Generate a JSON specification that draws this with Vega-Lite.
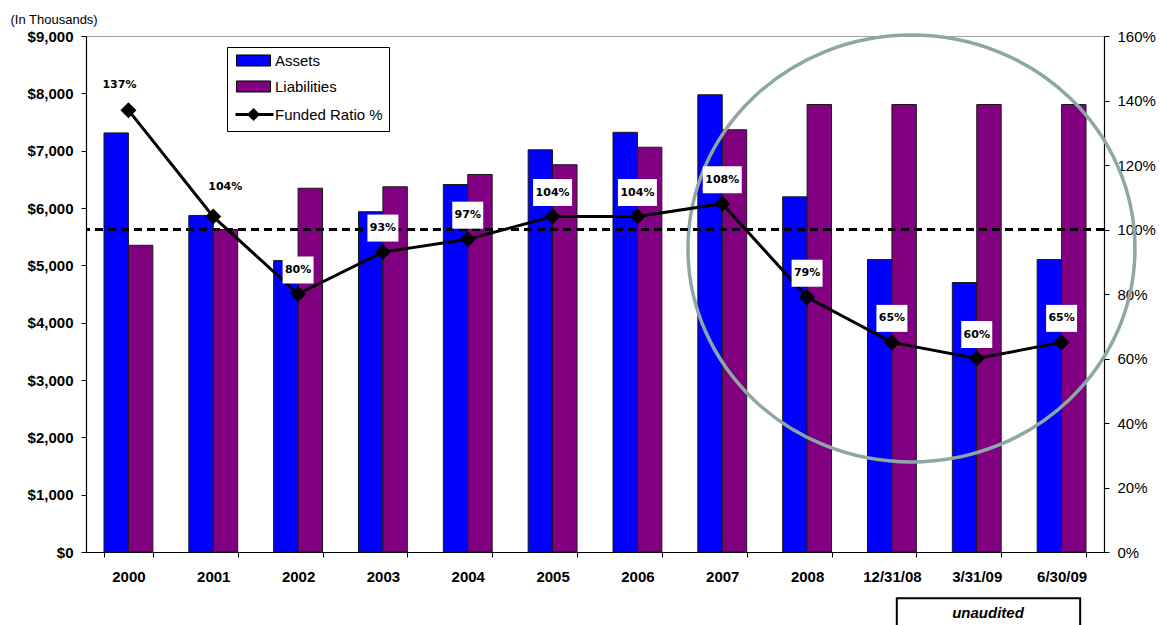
{
  "$schema": "https://vega.github.io/schema/vega-lite/v6.json",
  "width": 1018,
  "height": 516,
  "autosize": {"type": "none"},
  "padding": {"left": 86, "top": 36, "right": 55, "bottom": 73},
  "config": {
    "font": "Liberation Sans",
    "view": {"stroke": "#a0a0a0", "strokeWidth": 1},
    "axis": {"grid": false, "domainColor": "#000", "domainWidth": 1.2, "tickColor": "#000", "tickWidth": 1, "labelColor": "#000", "labelFont": "Liberation Sans"}
  },
  "datasets": {
    "funding": [
      {"period": "2000", "Assets": 7310, "Liabilities": 5350, "ratio": 1.37},
      {"period": "2001", "Assets": 5870, "Liabilities": 5625, "ratio": 1.04},
      {"period": "2002", "Assets": 5085, "Liabilities": 6345, "ratio": 0.80},
      {"period": "2003", "Assets": 5935, "Liabilities": 6370, "ratio": 0.93},
      {"period": "2004", "Assets": 6410, "Liabilities": 6585, "ratio": 0.97},
      {"period": "2005", "Assets": 7015, "Liabilities": 6755, "ratio": 1.04},
      {"period": "2006", "Assets": 7320, "Liabilities": 7060, "ratio": 1.04},
      {"period": "2007", "Assets": 7975, "Liabilities": 7365, "ratio": 1.08},
      {"period": "2008", "Assets": 6195, "Liabilities": 7805, "ratio": 0.79},
      {"period": "12/31/08", "Assets": 5100, "Liabilities": 7805, "ratio": 0.65},
      {"period": "3/31/09", "Assets": 4700, "Liabilities": 7805, "ratio": 0.60},
      {"period": "6/30/09", "Assets": 5100, "Liabilities": 7805, "ratio": 0.65}
    ],
    "note": [{"label": "unaudited"}]
  },
  "layer": [
    {
      "layer": [
        {
          "data": {"name": "funding"},
          "transform": [{"fold": ["Assets", "Liabilities"], "as": ["series", "amount"]}],
          "mark": {"type": "bar", "stroke": "#1a1a1a", "strokeWidth": 1},
          "encoding": {
            "x": {
              "field": "period", "type": "nominal", "title": null,
              "scale": {"domain": ["2000", "2001", "2002", "2003", "2004", "2005", "2006", "2007", "2008", "12/31/08", "3/31/09", "6/30/09"], "paddingInner": 0.424, "paddingOuter": 0.212},
              "axis": {"title": null, "labelAngle": 0, "labelFontWeight": "bold", "labelFontSize": 15, "tickBand": "extent", "tickSize": 5, "labelPadding": 12}
            },
            "xOffset": {"field": "series", "type": "nominal", "scale": {"domain": ["Assets", "Liabilities"], "paddingInner": 0, "paddingOuter": 0}},
            "y": {
              "field": "amount", "type": "quantitative", "title": "(In Thousands)",
              "scale": {"domain": [0, 9000], "nice": false},
              "axis": {
                "orient": "left", "title": "(In Thousands)", "titleAngle": 0, "titleAlign": "left", "titleBaseline": "middle",
                "titleX": -76, "titleY": -17, "titleFontSize": 13, "titleFontWeight": "normal", "titleColor": "#000",
                "values": [0, 1000, 2000, 3000, 4000, 5000, 6000, 7000, 8000, 9000],
                "format": "$,.0f", "labelFontWeight": "bold", "labelFontSize": 15, "tickSize": 5, "labelPadding": 8
              }
            },
            "color": {
              "field": "series", "type": "nominal",
              "scale": {"domain": ["Assets", "Liabilities", "Funded Ratio %"], "range": ["#0000FF", "#800080", "#000000"]},
              "legend": {
                "title": null, "orient": "none", "legendX": 141, "legendY": 11,
                "strokeColor": "#000", "fillColor": "#fff", "padding": 6,
                "labelFontSize": 15, "labelColor": "#000", "labelFont": "Liberation Sans",
                "symbolSize": 256, "rowPadding": 9, "labelOffset": 27,
                "symbolType": {"expr": "datum.value === 'Funded Ratio %' ? 'M-0.625,0H4.125M1.625,-0.55L2.175,0L1.625,0.55L1.075,0Z' : 'M-0.5,-0.69H3.75V0.69H-0.5Z'"},
                "symbolStrokeWidth": {"expr": "datum.value === 'Funded Ratio %' ? 3 : 1"},
                "symbolStrokeColor": "#000",
                "symbolOpacity": 1
              }
            }
          }
        },
        {
          "data": {"name": "note"},
          "mark": {
            "type": "point", "filled": false, "stroke": "#8DA6A6", "strokeWidth": 3.5, "opacity": 1, "size": 182329,
            "shape": "M-1.0468,0A1.0468,1,0,1,1,1.0468,0A1.0468,1,0,1,1,-1.0468,0Z"
          },
          "encoding": {
            "x": {"datum": "12/31/08", "bandPosition": 0.9},
            "y": {"datum": 5294, "type": "quantitative", "title": "(In Thousands)"}
          }
        },
        {
          "data": {"name": "note"},
          "mark": {"type": "rect", "fill": "#fff", "stroke": "#000", "strokeWidth": 2},
          "encoding": {
            "x": {"datum": "12/31/08", "bandPosition": 0.6},
            "x2": {"datum": "6/30/09", "bandPosition": 0.88},
            "y": {"datum": -805, "type": "quantitative", "title": "(In Thousands)"},
            "y2": {"datum": -1800}
          }
        },
        {
          "data": {"name": "note"},
          "mark": {"type": "text", "font": "Liberation Sans", "fontSize": 15, "fontWeight": "bold", "fontStyle": "italic", "color": "#000", "baseline": "middle", "align": "center"},
          "encoding": {
            "x": {"datum": "3/31/09", "bandPosition": 0.73},
            "y": {"datum": -1064, "type": "quantitative", "title": "(In Thousands)"},
            "text": {"field": "label"}
          }
        }
      ]
    },
    {
      "data": {"name": "funding"},
      "layer": [
        {
          "mark": {"type": "rule", "color": "#000", "strokeWidth": 2, "strokeDash": [8, 5]},
          "encoding": {"y": {"datum": 1, "type": "quantitative"}}
        },
        {
          "mark": {"type": "line", "color": "#000", "strokeWidth": 3},
          "encoding": {
            "x": {"field": "period", "type": "nominal", "title": null},
            "y": {
              "field": "ratio", "type": "quantitative",
              "scale": {"domain": [0, 1.6], "nice": false},
              "axis": {"orient": "right", "title": null, "format": ".0%", "values": [0, 0.2, 0.4, 0.6, 0.8, 1.0, 1.2, 1.4, 1.6], "labelFontSize": 15, "tickSize": 5, "labelPadding": 8}
            }
          }
        },
        {
          "mark": {"type": "point", "shape": "diamond", "filled": true, "color": "#000", "size": 256, "opacity": 1},
          "encoding": {
            "x": {"field": "period", "type": "nominal", "title": null},
            "y": {"field": "ratio", "type": "quantitative"}
          }
        },
        {
          "transform": [{"filter": "datum.period !== '2000' && datum.period !== '2001' && datum.ratio >= 1"}],
          "mark": {"type": "point", "shape": "M-1.444,-1H1.444V1H-1.444Z", "filled": true, "color": "#fff", "opacity": 1, "size": 729, "yOffset": -24},
          "encoding": {
            "x": {"field": "period", "type": "nominal", "title": null},
            "y": {"field": "ratio", "type": "quantitative"}
          }
        },
        {
          "transform": [{"filter": "datum.ratio < 1"}],
          "mark": {"type": "point", "shape": "M-1.148,-1H1.148V1H-1.148Z", "filled": true, "color": "#fff", "opacity": 1, "size": 729, "yOffset": -24},
          "encoding": {
            "x": {"field": "period", "type": "nominal", "title": null},
            "y": {"field": "ratio", "type": "quantitative"}
          }
        },
        {
          "transform": [{"filter": "datum.period !== '2000' && datum.period !== '2001'"}],
          "mark": {"type": "text", "font": "DejaVu Sans", "fontSize": 11, "fontWeight": "bold", "color": "#000", "baseline": "middle", "align": "center", "dy": -24},
          "encoding": {
            "x": {"field": "period", "type": "nominal", "title": null},
            "y": {"field": "ratio", "type": "quantitative"},
            "text": {"field": "ratio", "type": "quantitative", "format": ".0%"}
          }
        },
        {
          "transform": [{"filter": "datum.period === '2000'"}],
          "mark": {"type": "text", "font": "DejaVu Sans", "fontSize": 11, "fontWeight": "bold", "color": "#000", "baseline": "middle", "align": "center", "dy": -25, "dx": -9},
          "encoding": {
            "x": {"field": "period", "type": "nominal", "title": null},
            "y": {"field": "ratio", "type": "quantitative"},
            "text": {"field": "ratio", "type": "quantitative", "format": ".0%"}
          }
        },
        {
          "transform": [{"filter": "datum.period === '2001'"}],
          "mark": {"type": "text", "font": "DejaVu Sans", "fontSize": 11, "fontWeight": "bold", "color": "#000", "baseline": "middle", "align": "center", "dy": -30, "dx": 12},
          "encoding": {
            "x": {"field": "period", "type": "nominal", "title": null},
            "y": {"field": "ratio", "type": "quantitative"},
            "text": {"field": "ratio", "type": "quantitative", "format": ".0%"}
          }
        }
      ]
    }
  ],
  "resolve": {"scale": {"y": "independent"}}
}
